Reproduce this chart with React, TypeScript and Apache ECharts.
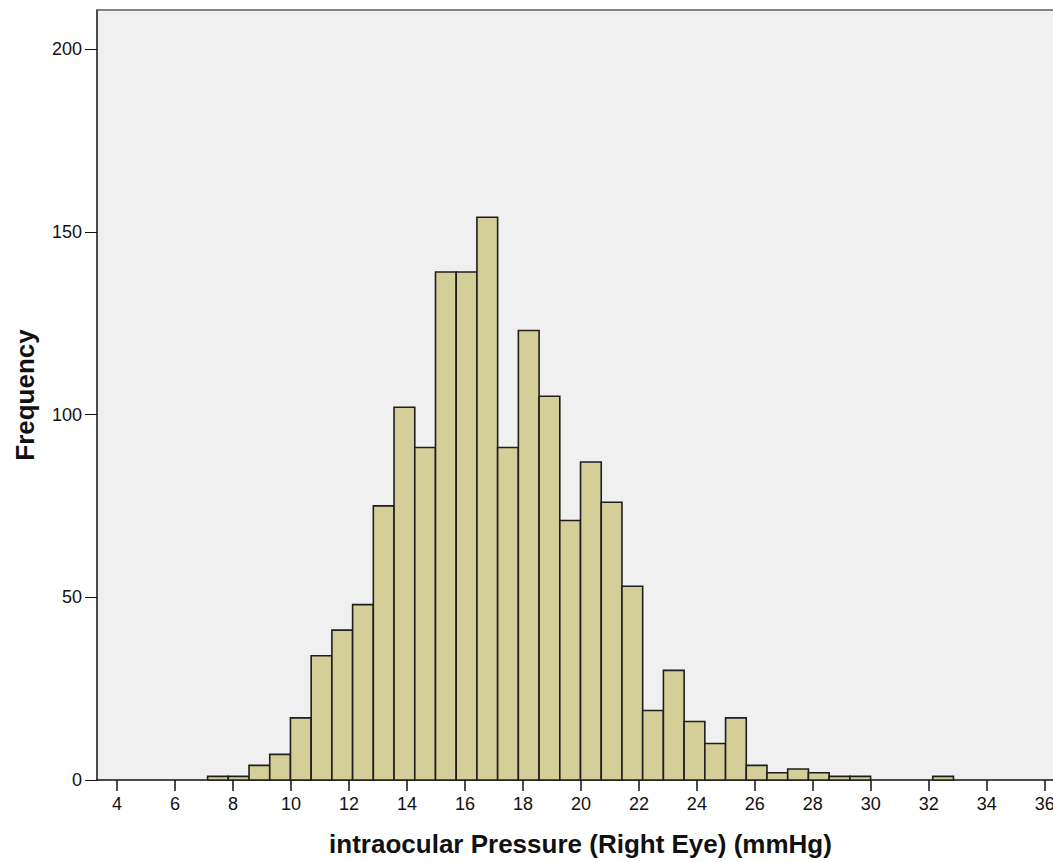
import React, { useEffect, useRef } from "react";
import * as echarts from "echarts";

// Histogram bins: first bin's lower edge and bin width (mmHg)
const binStart = 7.124;
const binWidth = 0.7146;
// Frequency per bin
const counts = [
  1, 1, 4, 7, 17, 34, 41, 48, 75, 102, 91, 139, 139, 154, 91, 123, 105, 71, 87, 76,
  53, 19, 30, 16, 10, 17, 4, 2, 3, 2, 1, 1, 0, 0, 0, 1,
];
const xTicks = [4, 6, 8, 10, 12, 14, 16, 18, 20, 22, 24, 26, 28, 30, 32, 34, 36];
const yTicks = [0, 50, 100, 150, 200];
const xTitle = "intraocular Pressure (Right Eye) (mmHg)";
const yTitle = "Frequency";

const FONT = "Liberation Sans, Arial, sans-serif";
const X_MIN = 3.31;
const X_MAX = 36.8;

export default function App() {
  const ref = useRef<HTMLDivElement>(null);
  useEffect(() => {
    if (!ref.current) return;
    const chart = echarts.init(ref.current, null, { renderer: "svg" });
    const data = counts
      .map((c, i) => [binStart + i * binWidth, binStart + (i + 1) * binWidth, c])
      .filter((d) => d[2] > 0);
    chart.setOption({
      animation: false,
      grid: {
        left: 97,
        top: 10,
        width: 971,
        height: 770,
        show: true,
        backgroundColor: "#f0f0f0",
        borderWidth: 0,
      },
      xAxis: [
        {
          type: "value",
          min: X_MIN,
          max: X_MAX,
          name: xTitle,
          nameLocation: "middle",
          nameGap: 51,
          nameTextStyle: {
            fontFamily: FONT,
            fontWeight: "bold",
            fontSize: 26,
            color: "#111",
            padding: [0, 4, 0, 0],
          },
          axisLine: { show: true, lineStyle: { color: "#111", width: 1.5 } },
          axisTick: {
            show: true,
            length: 11,
            customValues: xTicks,
            lineStyle: { color: "#111", width: 1.5 },
          },
          axisLabel: {
            customValues: xTicks,
            margin: 15,
            fontFamily: FONT,
            fontSize: 18,
            color: "#111",
          },
          splitLine: { show: false },
        },
        {
          type: "value",
          position: "top",
          min: X_MIN,
          max: X_MAX,
          axisLine: { show: true, lineStyle: { color: "#5e5e5e", width: 1.5 } },
          axisTick: { show: false },
          axisLabel: { show: false },
          splitLine: { show: false },
        },
      ],
      yAxis: {
        type: "value",
        min: 0,
        max: 210.7,
        interval: 50,
        name: yTitle,
        nameLocation: "middle",
        nameGap: 59,
        nameRotate: 90,
        nameTextStyle: {
          fontFamily: FONT,
          fontWeight: "bold",
          fontSize: 26,
          color: "#111",
        },
        axisLine: { show: true, lineStyle: { color: "#111", width: 1.5 } },
        axisTick: {
          show: true,
          length: 12,
          customValues: yTicks,
          lineStyle: { color: "#111", width: 1 },
        },
        axisLabel: {
          customValues: yTicks,
          margin: 15,
          fontFamily: FONT,
          fontSize: 18,
          color: "#111",
        },
        splitLine: { show: false },
      },
      series: [
        {
          type: "custom",
          xAxisIndex: 0,
          data,
          renderItem: (params: any, api: any) => {
            const x0 = api.value(0);
            const x1 = api.value(1);
            const y = api.value(2);
            const p0 = api.coord([x0, y]);
            const p1 = api.coord([x1, 0]);
            return {
              type: "rect",
              shape: {
                x: p0[0],
                y: p0[1],
                width: p1[0] - p0[0],
                height: p1[1] - p0[1],
              },
              style: { fill: "#d4cf98", stroke: "#1e1e1e", lineWidth: 1.6 },
            };
          },
        },
      ],
    });
    return () => chart.dispose();
  }, []);
  return (
    <div
      style={{
        position: "absolute",
        left: 0,
        top: 0,
        width: 1053,
        height: 862,
        overflow: "hidden",
      }}
    >
      <div ref={ref} style={{ width: 1100, height: 862 }} />
    </div>
  );
}
